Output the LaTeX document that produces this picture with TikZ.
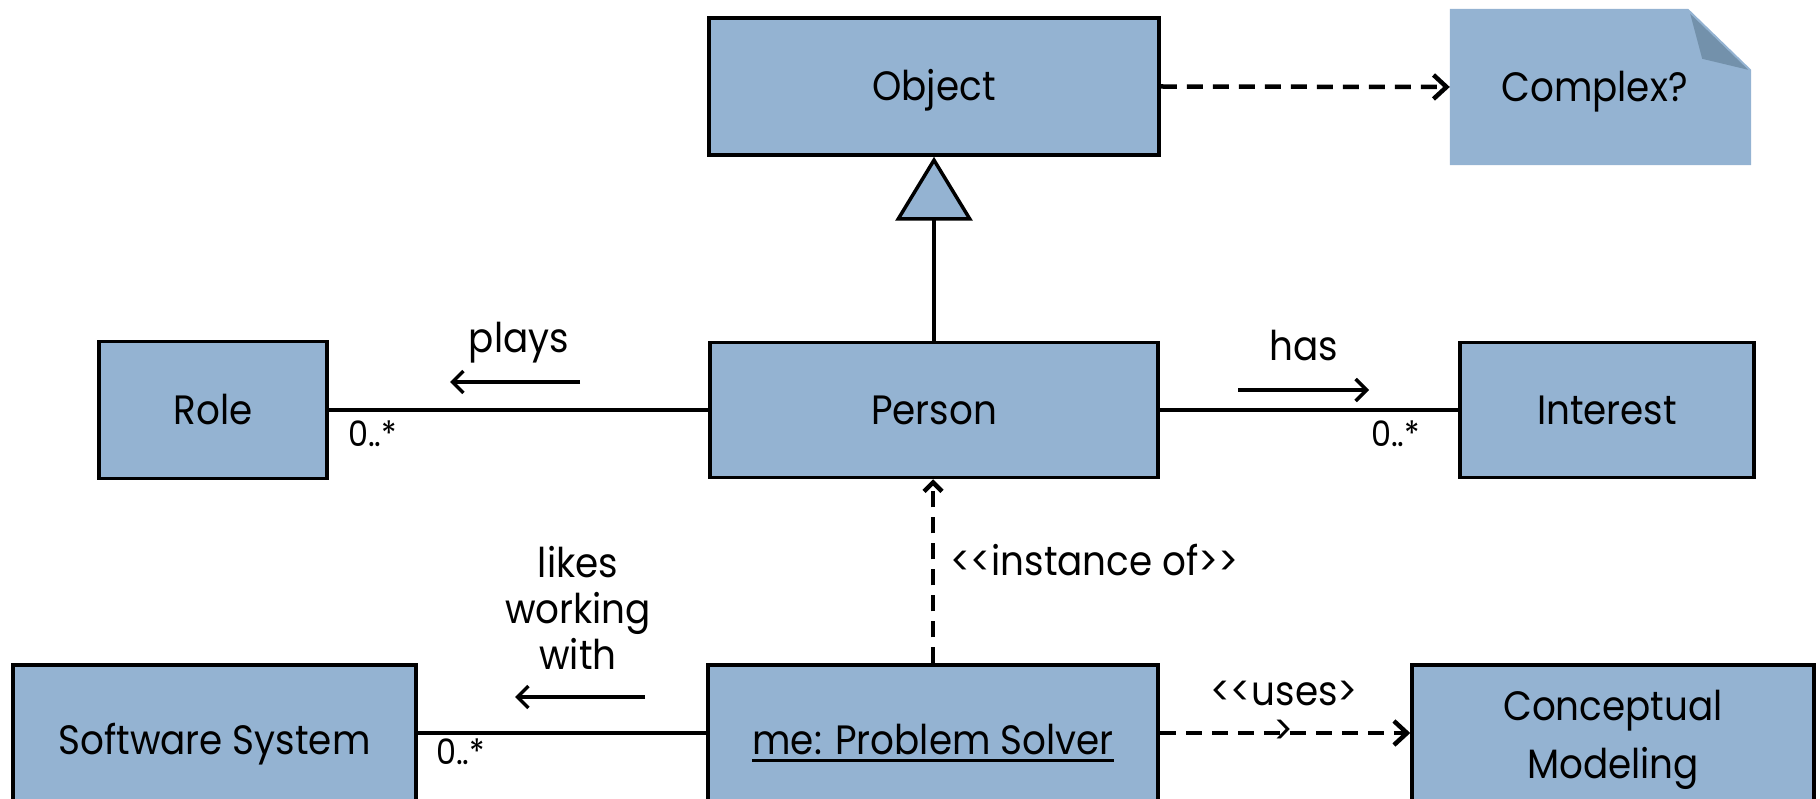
\documentclass[tikz,border=0pt]{standalone}
\usepackage{fontspec}
\setmainfont{Poppins}[FakeStretch=0.91]
\usetikzlibrary{arrows.meta,backgrounds}
\definecolor{boxblue}{HTML}{94B3D2}
\definecolor{foldblue}{HTML}{7391AB}
% underlined object name (UML instance notation)
\newcommand\ulsolver[1]{\setbox0\hbox{#1}\rlap{\rule[-7.5pt]{\wd0}{3pt}}\box0}
\begin{document}
\begin{tikzpicture}[x=1pt,y=-1pt,
  box/.style={draw=black, line width=3.5pt, fill=boxblue, inner sep=0pt,
    font=\fontsize{41}{58}\selectfont, text height=29pt, text depth=0pt},
  conn/.style={line width=4.5pt},
  dep/.style={line width=4.5pt, dash pattern=on 16pt off 10pt,
    -{Straight Barb[length=13pt,width=24pt]}},
  dirarrow/.style={line width=3.5pt, -{Straight Barb[length=11pt,width=22pt]}},
  lbl/.style={font=\fontsize{41}{46}\selectfont, inner sep=0pt},
  mult/.style={font=\fontsize{35}{40}\selectfont, inner sep=0pt}]
\useasboundingbox (0,0) rectangle (1820,799);
\clip (0,0) rectangle (1820,799);

% classes
\node[box, minimum width=450pt, minimum height=137pt] (object)   at (934,86.5) {Object};
\node[box, minimum width=448pt, minimum height=135pt] (person)   at (934,410)  {Person};
\node[box, minimum width=228pt, minimum height=137pt] (role)     at (213,410)  {Role};
\node[box, minimum width=294pt, minimum height=135pt] (interest) at (1607,410) {Interest};
\node[box, minimum width=403pt, minimum height=150pt] (software) at (214.5,740) {Software System};
\node[box, minimum width=450pt, minimum height=150pt] (solver)   at (933,740)  {\ulsolver{me: Problem Solver}};
\node[box, minimum width=402pt, minimum height=150pt, align=center,
      text height={}, text depth={}] (concept) at (1613,740) {Conceptual\\Modeling};

% note with folded corner
\node[lbl, minimum width=301pt, minimum height=156pt,
      text height=29pt, text depth=0pt] (complex) at (1600.5,87) {Complex?\kern12pt};
\begin{scope}[on background layer]
  \fill[boxblue] (complex.south west) -- (complex.north west)
    -- ([xshift=-63pt]complex.north east) -- ([yshift=-61pt]complex.north east)
    -- (complex.south east) -- cycle;
  \fill[foldblue] ([xshift=-61pt,yshift=-5pt]complex.north east)
    -- ([xshift=-49pt,yshift=-50pt]complex.north east)
    -- ([xshift=-3pt,yshift=-61pt]complex.north east) -- cycle;
\end{scope}

% generalization
\draw[line width=3.5pt, -{Triangle[length=64pt,width=77pt,fill=boxblue]}]
  (person.north) -- (object.south);

% dependencies
\draw[dep] (object.east) -- (complex.west);
\draw[dep, -{Straight Barb[length=9pt,width=18pt]}] (solver.north) -- (solver.north |- person.south);
\draw[dep] ([yshift=7pt]solver.east) -- ([yshift=7pt]solver.east -| concept.west);

% associations
\draw[conn] (person.west) -- (role.east);
\draw[conn] (person.east) -- (interest.west);
\draw[conn] ([yshift=7pt]solver.west) -- ([yshift=7pt]solver.west -| software.east);

% association names with reading direction
\node[lbl, anchor=base] (plays) at (519,353) {plays};
\coordinate (playsA) at (580,382);
\coordinate (playsB) at (450,382);
\draw[dirarrow] (playsA) -- (playsB);

\node[lbl, anchor=base] (has) at (1304,360) {has};
\coordinate (hasA) at (1238,390);
\coordinate (hasB) at (1369,390);
\draw[dirarrow] (hasA) -- (hasB);

\node[lbl, anchor=north, align=center] (likes) at (578,546) {likes\\working\\with};
\coordinate (likesA) at (645,697);
\coordinate (likesB) at (515,697);
\draw[dirarrow] (likesA) -- (likesB);

% stereotypes
\node[lbl, anchor=base west] (inst) at (950,575) {<{}<instance of>{}>};
\node[lbl, anchor=base, align=center, font=\fontsize{41}{39}\selectfont] (uses) at (1284,744) {<{}<uses>\\>};

% multiplicities
\node[mult, anchor=base west] (m1) at (348,446) {0..*};
\node[mult, anchor=base west] (m2) at (1371,446) {0..*};
\node[mult, anchor=base west] (m3) at (436,764) {0..*};
\end{tikzpicture}
\end{document}
